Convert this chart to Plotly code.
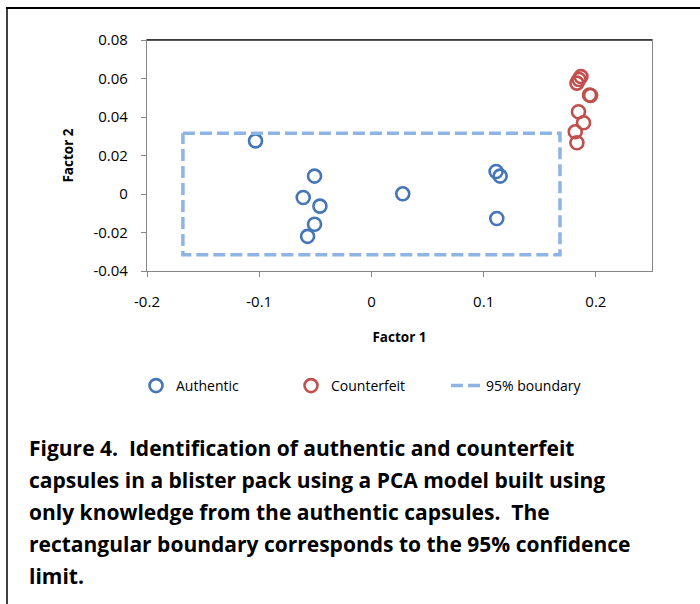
import plotly.graph_objects as go

# ---- data ----
auth_x = [-0.1033, -0.0507, -0.0608, -0.0459, -0.0507, -0.0569, 0.0279, 0.1111, 0.1147, 0.1117]
auth_y = [0.0276, 0.0093, -0.0018, -0.0063, -0.0157, -0.0220, 0.0001, 0.0117, 0.0093, -0.0127]
fake_x = [0.1867, 0.1849, 0.1831, 0.1943, 0.1953, 0.1845, 0.1890, 0.1816, 0.1831]
fake_y = [0.0610, 0.0595, 0.0576, 0.0514, 0.0512, 0.0427, 0.0370, 0.0323, 0.0266]
bound_x = [-0.168, 0.168, 0.168, -0.168, -0.168]
bound_y = [0.0315, 0.0315, -0.0315, -0.0315, 0.0315]
x_ticks = [-0.2, -0.1, 0, 0.1, 0.2]
x_tick_text = ["-0.2", "-0.1", "0", "0.1", "0.2"]
y_ticks = [-0.04, -0.02, 0, 0.02, 0.04, 0.06, 0.08]
y_tick_text = ["-0.04", "-0.02", "0", "0.02", "0.04", "0.06", "0.08"]
caption = [
    "Figure 4.  Identification of authentic and counterfeit",
    "capsules in a blister pack using a PCA model built using",
    "only knowledge from the authentic capsules.  The",
    "rectangular boundary corresponds to the 95% confidence",
    "limit.",
]

W, H = 700, 604
L, R, T, B = 147, 48, 40, 333
PW, PH = W - L - R, H - T - B

def px_x(p):
    return (p - L) / PW

def px_y(p):
    return (H - B - p) / PH

FONT = "Open Sans"
BLUE = "#4475B6"
RED = "#C0504D"
LBLUE = "#8DB4E3"

fig = go.Figure()
fig.add_trace(go.Scatter(x=auth_x, y=auth_y, mode="markers", name="Authentic",
                         marker=dict(symbol="circle-open", size=13, color=BLUE,
                                     line=dict(width=2.6, color=BLUE))))
fig.add_trace(go.Scatter(x=fake_x, y=fake_y, mode="markers", name="Counterfeit",
                         marker=dict(symbol="circle-open", size=13, color=RED,
                                     line=dict(width=2.6, color=RED))))
fig.add_trace(go.Scatter(x=bound_x, y=bound_y, mode="lines", name="95% boundary",
                         line=dict(color=LBLUE, width=3.5, dash="12px,5px")))

axis_common = dict(showgrid=False, zeroline=False, showline=True, linecolor="#868686",
                   linewidth=1.2, ticks="outside", ticklen=5, tickcolor="#868686",
                   tickfont=dict(family=FONT, size=15, color="#000000"), mirror=True)
fig.update_xaxes(range=[-0.2, 0.25], tickvals=x_ticks, ticktext=x_tick_text,
                 title=dict(text="<b>Factor 1</b>", font=dict(family=FONT, size=13.5, color="#000"),
                            standoff=22),
                 ticklabelstandoff=12, **axis_common)
fig.update_yaxes(range=[-0.04, 0.08], tickvals=y_ticks, ticktext=y_tick_text,
                 title=dict(text="<b>Factor 2</b>", font=dict(family=FONT, size=13.5, color="#000"),
                            standoff=16),
                 ticklabelstandoff=10, **axis_common)

shapes = []
shapes.append(dict(type="line", xref="paper", yref="paper", x0=0, x1=1, y0=1, y1=1,
                   line=dict(color="#222222", width=1.5)))
shapes.append(dict(type="line", xref="paper", yref="paper", x0=px_x(6), x1=px_x(700),
                   y0=px_y(8), y1=px_y(8), line=dict(color="#000000", width=2)))
shapes.append(dict(type="line", xref="paper", yref="paper", x0=px_x(7), x1=px_x(7),
                   y0=px_y(8), y1=px_y(604), line=dict(color="#000000", width=1.5)))

annotations = []
line_y = [448, 480, 512, 544, 576]
for txt, yy in zip(caption, line_y):
    annotations.append(dict(xref="paper", yref="paper", x=px_x(27), y=px_y(yy),
                            xanchor="left", yanchor="middle", showarrow=False,
                            text="<b>" + txt + "</b>",
                            font=dict(family=FONT, size=21, color="#000000")))

fig.update_layout(
    width=W, height=H,
    margin=dict(l=L, r=R, t=T, b=B, autoexpand=False),
    paper_bgcolor="white", plot_bgcolor="white",
    showlegend=True,
    legend=dict(orientation="h", x=px_x(136), y=px_y(386), xanchor="left", yanchor="middle",
                font=dict(family=FONT, size=14, color="#000000"),
                entrywidth=110, bgcolor="rgba(0,0,0,0)"),
    shapes=shapes, annotations=annotations,
)

fig.write_html("out.html", config={"displayModeBar": False},
               post_script="document.body.style.margin='0';")
